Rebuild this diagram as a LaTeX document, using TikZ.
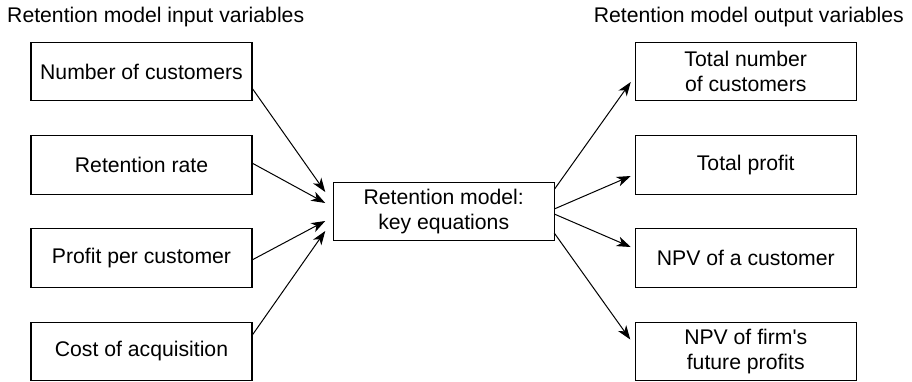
\documentclass[tikz,border=0pt]{standalone}
\usepackage{fontspec}
% a family without the TeX ligature mapping, so ' stays a straight quote
\newfontfamily\boxfont{Liberation Sans}
\usetikzlibrary{arrows.meta,calc}

\begin{document}
\begin{tikzpicture}[x=1pt,y=-1pt,
  every node/.style={font=\boxfont\fontsize{21.2}{25}\selectfont},
  varbox/.style={draw, line width=1.1pt, minimum width=221pt, minimum height=58.5pt,
    inner sep=0pt, outer sep=0pt, align=center},
  link/.style={line width=1pt, -{Stealth[length=14pt,width=10pt,inset=4pt]}}]

\useasboundingbox (0,0) rectangle (912,381);

% headings
\node[anchor=base west, inner sep=0pt] (hin) at (7,22.5) {Retention model input variables};
\node[anchor=base east, inner sep=0pt] (hout) at (904,22.5) {Retention model output variables};

% input variables
\node[varbox] (in1) at (141.5,71.5)  {Number of customers};
\node[varbox] (in2) at (141.5,165)   {Retention rate};
\node[varbox] (in3) at (141.5,258)   {Profit per customer};
\node[varbox] (in4) at (141.5,351.5) {Cost of acquisition};

% model
\node[varbox, minimum height=58pt] (model) at (443.75,211.5) {Retention model:\\key equations};

% output variables
\node[varbox] (out1) at (745.75,71.5)  {Total number\\of customers};
\node[varbox] (out2) at (745.75,165)   {Total profit};
\node[varbox] (out3) at (745.75,258)   {NPV of a customer};
\node[varbox] (out4) at (745.75,351.5) {NPV of firm's\\future profits};

% arrow end points next to the boxes
\coordinate (ti1) at ($(model.west)+(-8,-19.5)$);
\coordinate (ti2) at ($(model.west)+(-8,-8.5)$);
\coordinate (ti3) at ($(model.west)+(-8,9.5)$);
\coordinate (ti4) at ($(model.west)+(-8,19.5)$);
\coordinate (to1) at ($(out1.west)+(-4.5,10.5)$);
\coordinate (to2) at ($(out2.west)+(-4.5,11)$);
\coordinate (to3) at ($(out3.west)+(-4.5,-11)$);
\coordinate (to4) at ($(out4.west)+(-5,-12)$);

% inputs into the model
\draw[link] ($(in1.east)+(0,16.5)$) -- (ti1);
\draw[link] ($(in2.east)+(0,-2)$)   -- (ti2);
\draw[link] ($(in3.east)+(0,2)$)    -- (ti3);
\draw[link] ($(in4.east)+(0,-16)$)  -- (ti4);

% model to outputs
\draw[link] ($(model.east)+(0,-22)$)  -- (to1);
\draw[link] ($(model.east)+(0,-2.5)$) -- (to2);
\draw[link] ($(model.east)+(0,2.5)$)  -- (to3);
\draw[link] ($(model.east)+(0,21.5)$) -- (to4);
\end{tikzpicture}
\end{document}
